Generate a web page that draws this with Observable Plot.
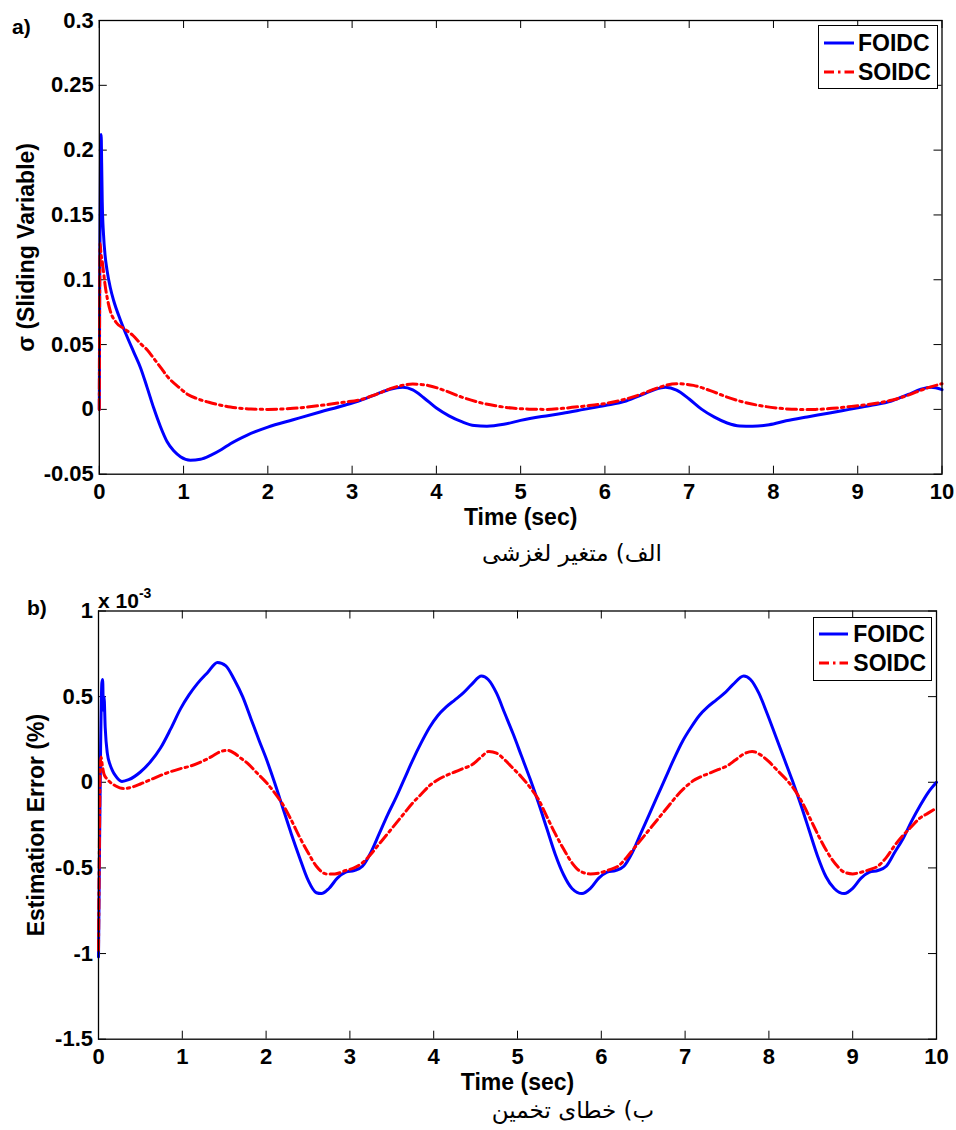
<!DOCTYPE html>
<html>
<head>
<meta charset="utf-8">
<script src="https://cdn.jsdelivr.net/npm/d3@7"></script>
<script src="https://cdn.jsdelivr.net/npm/@observablehq/plot@0.6"></script>
<style>
  html, body { margin: 0; padding: 0; background: #fff; }
  #page { position: relative; width: 956px; height: 1130px; overflow: hidden; background: #fff; }
  .abs { position: absolute; }
  .lbl { font-family: "Liberation Sans", Arial, sans-serif; font-weight: bold; color: #000; line-height: 1; white-space: nowrap; }
  .cap { font-family: "DejaVu Sans", sans-serif; font-size: 23px; line-height: 30px; text-align: center; direction: rtl; color: #000; white-space: nowrap; }
  .legend { position: absolute; border: 1px solid #000; background: #fff; box-sizing: border-box; }
  .legend .row { position: absolute; left: 0; height: 30px; line-height: 30px; font-family: "Liberation Sans", Arial, sans-serif; font-weight: bold; font-size: 23px; white-space: nowrap; }
  .legend svg { position: absolute; }
</style>
</head>
<body>
<div id="page"></div>
<script>
// ---------- DATA ----------
const xTicks = [0, 1, 2, 3, 4, 5, 6, 7, 8, 9, 10];
const xTickLabels = ["0", "1", "2", "3", "4", "5", "6", "7", "8", "9", "10"];

const yTicksA = [-0.05, 0, 0.05, 0.1, 0.15, 0.2, 0.25, 0.3];
const yTickLabelsA = ["-0.05", "0", "0.05", "0.1", "0.15", "0.2", "0.25", "0.3"];

const yTicksB = [-1.5, -1, -0.5, 0, 0.5, 1];
const yTickLabelsB = ["-1.5", "-1", "-0.5", "0", "0.5", "1"];

const seriesNames = ["FOIDC", "SOIDC"];
const seriesColors = ["#0000ff", "#ff0000"];

// a) sliding variable sigma  [time (sec), value]
const sigmaFOIDC = [
  [0, 0], [0.005, 0.1], [0.015, 0.2], [0.022, 0.212], [0.028, 0.19], [0.035, 0.16],
  [0.05, 0.135], [0.07, 0.118], [0.09, 0.108], [0.13, 0.094], [0.17, 0.084], [0.25, 0.069],
  [0.33, 0.056], [0.41, 0.044], [0.49, 0.032], [0.567, 0.017], [0.646, 0.001], [0.725, -0.0132],
  [0.805, -0.025], [0.883, -0.032], [0.963, -0.0365], [1.08, -0.0392], [1.2, -0.0385],
  [1.32, -0.0355], [1.45, -0.031], [1.556, -0.0265], [1.75, -0.02], [2.0, -0.0137],
  [2.3, -0.008], [2.62, -0.002], [2.9, 0.003], [3.1, 0.007], [3.3, 0.012], [3.45, 0.0155],
  [3.6, 0.017], [3.72, 0.015], [3.85, 0.009], [4.0, 0.001], [4.15, -0.005], [4.3, -0.0095],
  [4.45, -0.0125], [4.6, -0.013], [4.8, -0.0115], [5.0, -0.0085], [5.25, -0.0055],
  [5.5, -0.003], [5.75, 0.0], [6.0, 0.003], [6.25, 0.0065], [6.45, 0.0115], [6.6, 0.0155],
  [6.72, 0.017], [6.85, 0.0148], [7.0, 0.008], [7.15, 0.0], [7.3, -0.006], [7.45, -0.0105],
  [7.6, -0.0128], [7.75, -0.013], [7.95, -0.0118], [8.15, -0.0088], [8.4, -0.0058],
  [8.65, -0.003], [8.9, 0.0], [9.15, 0.003], [9.4, 0.0065], [9.6, 0.0115], [9.75, 0.0155],
  [9.87, 0.017], [10.0, 0.0152]
];
const sigmaSOIDC = [
  [0, 0], [0.004, 0.08], [0.01, 0.128], [0.02, 0.12], [0.033, 0.115], [0.05, 0.106],
  [0.073, 0.094], [0.1, 0.084], [0.13, 0.076], [0.2, 0.067], [0.3, 0.062], [0.4, 0.057],
  [0.49, 0.0507], [0.567, 0.046], [0.65, 0.039], [0.725, 0.0326], [0.8, 0.026], [0.963, 0.016],
  [1.05, 0.0115], [1.16, 0.0083], [1.3, 0.0055], [1.556, 0.0018], [1.8, 0.0003], [2.0, 0.0],
  [2.3, 0.0008], [2.62, 0.003], [2.9, 0.0055], [3.1, 0.0075], [3.3, 0.012], [3.5, 0.017],
  [3.72, 0.0195], [3.9, 0.0185], [4.1, 0.0145], [4.3, 0.0095], [4.5, 0.0055], [4.7, 0.0028],
  [4.9, 0.001], [5.1, 0.0002], [5.3, 0.0], [5.5, 0.0008], [5.75, 0.0025], [6.0, 0.0045],
  [6.2, 0.0072], [6.4, 0.011], [6.6, 0.016], [6.85, 0.0198], [7.05, 0.0185], [7.25, 0.0145],
  [7.45, 0.0095], [7.65, 0.0055], [7.85, 0.0028], [8.05, 0.001], [8.3, 0.0], [8.5, 0.0],
  [8.7, 0.0008], [8.95, 0.0025], [9.2, 0.0045], [9.4, 0.007], [9.6, 0.011], [9.8, 0.016],
  [10.0, 0.0198]
];

// b) estimation error (%), values in units of 1e-3  [time (sec), value]
const errFOIDC = [
  [0, -1.02], [0.01, -0.5], [0.025, 0.2], [0.04, 0.58], [0.05, 0.6], [0.058, 0.42],
  [0.066, 0.5], [0.08, 0.32], [0.105, 0.17], [0.14, 0.1], [0.165, 0.07], [0.2, 0.04],
  [0.28, 0.005], [0.36, 0.015], [0.5, 0.06], [0.62, 0.12], [0.74, 0.2], [0.86, 0.31],
  [0.98, 0.43], [1.08, 0.51], [1.18, 0.576], [1.3, 0.64], [1.42, 0.70], [1.52, 0.68],
  [1.62, 0.6], [1.72, 0.5], [1.82, 0.37], [1.92, 0.24], [2.0, 0.14], [2.1, 0.0],
  [2.2, -0.15], [2.3, -0.3], [2.4, -0.44], [2.5, -0.57], [2.6, -0.645], [2.66, -0.65],
  [2.75, -0.62], [2.85, -0.56], [2.95, -0.525], [3.05, -0.515], [3.15, -0.49], [3.25, -0.41],
  [3.35, -0.3], [3.45, -0.19], [3.55, -0.09], [3.65, 0.02], [3.75, 0.13], [3.85, 0.23],
  [3.95, 0.32], [4.05, 0.39], [4.15, 0.44], [4.25, 0.48], [4.35, 0.52], [4.45, 0.57],
  [4.57, 0.62], [4.65, 0.6], [4.75, 0.52], [4.85, 0.4], [4.95, 0.28], [5.05, 0.15],
  [5.15, 0.02], [5.25, -0.12], [5.35, -0.27], [5.45, -0.42], [5.55, -0.54], [5.65, -0.62],
  [5.77, -0.65], [5.87, -0.62], [5.97, -0.56], [6.07, -0.525], [6.17, -0.515], [6.27, -0.49],
  [6.37, -0.41], [6.47, -0.3], [6.57, -0.19], [6.67, -0.08], [6.77, 0.03], [6.87, 0.14],
  [6.97, 0.24], [7.07, 0.32], [7.17, 0.39], [7.27, 0.44], [7.37, 0.48], [7.47, 0.52],
  [7.57, 0.57], [7.7, 0.62], [7.78, 0.6], [7.88, 0.52], [7.98, 0.4], [8.08, 0.27],
  [8.18, 0.14], [8.28, 0.01], [8.38, -0.13], [8.48, -0.28], [8.58, -0.43], [8.68, -0.55],
  [8.78, -0.62], [8.9, -0.65], [9.0, -0.62], [9.1, -0.56], [9.2, -0.525], [9.3, -0.515],
  [9.4, -0.49], [9.5, -0.41], [9.6, -0.33], [9.7, -0.23], [9.8, -0.14], [9.9, -0.06],
  [10.0, 0.0]
];
const errSOIDC = [
  [0, -0.98], [0.01, -0.4], [0.02, 0.1], [0.03, 0.147], [0.045, 0.1], [0.064, 0.05],
  [0.1, 0.02], [0.14, 0.0], [0.2, -0.02], [0.3, -0.037], [0.4, -0.028], [0.5, -0.01],
  [0.62, 0.015], [0.74, 0.04], [0.86, 0.062], [0.98, 0.08], [1.1, 0.095], [1.22, 0.118],
  [1.35, 0.15], [1.46, 0.18], [1.54, 0.186], [1.62, 0.17], [1.7, 0.14], [1.78, 0.11],
  [1.88, 0.06], [2.0, 0.0], [2.1, -0.06], [2.2, -0.13], [2.3, -0.22], [2.4, -0.32],
  [2.5, -0.41], [2.6, -0.49], [2.72, -0.535], [2.82, -0.535], [2.95, -0.515], [3.05, -0.5],
  [3.15, -0.47], [3.25, -0.42], [3.35, -0.36], [3.45, -0.3], [3.55, -0.24], [3.65, -0.18],
  [3.75, -0.12], [3.85, -0.07], [3.95, -0.02], [4.05, 0.015], [4.15, 0.04], [4.25, 0.06],
  [4.35, 0.08], [4.45, 0.1], [4.55, 0.14], [4.66, 0.18], [4.75, 0.17], [4.85, 0.13],
  [4.95, 0.08], [5.05, 0.03], [5.15, -0.03], [5.25, -0.1], [5.35, -0.2], [5.45, -0.3],
  [5.55, -0.39], [5.65, -0.47], [5.75, -0.52], [5.87, -0.535], [5.97, -0.53], [6.1, -0.51],
  [6.2, -0.49], [6.3, -0.44], [6.4, -0.38], [6.5, -0.32], [6.6, -0.26], [6.7, -0.2],
  [6.8, -0.14], [6.9, -0.08], [7.0, -0.03], [7.1, 0.01], [7.2, 0.035], [7.3, 0.055],
  [7.4, 0.075], [7.5, 0.095], [7.6, 0.13], [7.7, 0.165], [7.8, 0.18], [7.9, 0.16],
  [8.0, 0.12], [8.1, 0.07], [8.2, 0.02], [8.3, -0.04], [8.4, -0.12], [8.5, -0.22],
  [8.6, -0.32], [8.7, -0.41], [8.8, -0.48], [8.9, -0.525], [9.0, -0.535], [9.1, -0.525],
  [9.2, -0.51], [9.3, -0.49], [9.4, -0.44], [9.5, -0.37], [9.6, -0.31], [9.7, -0.26],
  [9.8, -0.21], [9.9, -0.18], [10.0, -0.15]
];

const xTitle = "Time (sec)";
const yTitleA = "σ (Sliding Variable)";
const yTitleB = "Estimation Error (%)";
const captionA = "الف) متغیر لغزشی";
const captionB = "ب) خطای تخمین";

// ---------- DRAWING ----------
const page = document.getElementById("page");
const tickLen = 8;
const dashDot = "10,4,2.5,4";

function panel(cfg) {
  const fh = cfg.height - cfg.marginTop - cfg.marginBottom;
  const fw = cfg.width - cfg.marginLeft - cfg.marginRight;
  const fmt = (ticks, labels) => d => labels[ticks.indexOf(d)];
  const tickStyle = {stroke: "#000", strokeOpacity: 1, strokeWidth: 1};
  return Plot.plot({
    width: cfg.width,
    height: cfg.height,
    marginTop: cfg.marginTop,
    marginBottom: cfg.marginBottom,
    marginLeft: cfg.marginLeft,
    marginRight: cfg.marginRight,
    x: {domain: [0, 10]},
    y: {domain: cfg.yDomain},
    style: {
      fontFamily: "'Liberation Sans', Arial, sans-serif",
      fontSize: "22px",
      fontWeight: "bold",
      background: "#fff",
      color: "#000",
      overflow: "visible"
    },
    marks: [
      Plot.gridX(xTicks, {...tickStyle, insetTop: fh - tickLen}),
      Plot.gridX(xTicks, {...tickStyle, insetBottom: fh - tickLen}),
      Plot.gridY(cfg.yTicks, {...tickStyle, insetRight: fw - tickLen}),
      Plot.gridY(cfg.yTicks, {...tickStyle, insetLeft: fw - tickLen}),
      Plot.axisX(xTicks, {tickSize: 0, tickPadding: cfg.xPad, tickFormat: fmt(xTicks, xTickLabels), label: null, fill: "#000"}),
      Plot.axisY(cfg.yTicks, {tickSize: 0, tickPadding: 5.5, tickFormat: fmt(cfg.yTicks, cfg.yLabels), label: null, fill: "#000"}),
      Plot.line(cfg.s1, {x: d => d[0], y: d => d[1], stroke: seriesColors[0], strokeWidth: 3, curve: "monotone-x"}),
      Plot.line(cfg.s2, {x: d => d[0], y: d => d[1], stroke: seriesColors[1], strokeWidth: 3, strokeDasharray: dashDot, curve: "monotone-x"}),
      Plot.frame({stroke: "#000", strokeWidth: 1.3}),
      Plot.text([xTitle], {frameAnchor: "bottom", lineAnchor: "top", textAnchor: "middle", dy: cfg.xTitleDy, fontSize: 23, fill: "#000"}),
      Plot.text([cfg.yTitle], {frameAnchor: "left", rotate: -90, textAnchor: "middle", lineAnchor: "middle", dx: cfg.yTitleDx, fontSize: 23, fill: "#000"})
    ]
  });
}

function place(el, left, top) {
  const w = document.createElement("div");
  w.className = "abs";
  w.style.left = left + "px";
  w.style.top = top + "px";
  w.appendChild(el);
  page.appendChild(w);
  return w;
}

function addText(html, cls, left, top, extra) {
  const d = document.createElement("div");
  d.className = "abs " + cls;
  d.style.left = left + "px";
  d.style.top = top + "px";
  Object.assign(d.style, extra || {});
  d.innerHTML = html;
  page.appendChild(d);
  return d;
}

function addLegend(box, rows) {
  const lg = document.createElement("div");
  lg.className = "legend";
  lg.style.left = box.left + "px";
  lg.style.top = box.top + "px";
  lg.style.width = box.width + "px";
  lg.style.height = box.height + "px";
  seriesNames.forEach((name, i) => {
    const r = document.createElement("div");
    r.className = "row";
    r.style.top = (rows.centers[i] - 15) + "px";
    r.style.width = box.width + "px";
    const ns = "http://www.w3.org/2000/svg";
    const s = document.createElementNS(ns, "svg");
    s.setAttribute("width", rows.lineW);
    s.setAttribute("height", 6);
    s.style.left = rows.lineX + "px";
    s.style.top = "12px";
    const ln = document.createElementNS(ns, "line");
    ln.setAttribute("x1", 0); ln.setAttribute("x2", rows.lineW);
    ln.setAttribute("y1", 3); ln.setAttribute("y2", 3);
    ln.setAttribute("stroke", seriesColors[i]);
    ln.setAttribute("stroke-width", 3);
    if (i === 1) ln.setAttribute("stroke-dasharray", dashDot);
    s.appendChild(ln);
    r.appendChild(s);
    const t = document.createElement("span");
    t.textContent = name;
    t.style.position = "absolute";
    t.style.left = rows.textX + "px";
    r.appendChild(t);
    lg.appendChild(r);
  });
  page.appendChild(lg);
}

// Panel a)
const plotA = panel({
  width: 956, height: 535, marginTop: 20, marginBottom: 61.3, marginLeft: 98.8, marginRight: 14.5,
  yDomain: [-0.05, 0.3], yTicks: yTicksA, yLabels: yTickLabelsA,
  s1: sigmaFOIDC, s2: sigmaSOIDC, xPad: 9, xTitleDy: 34, yTitle: yTitleA, yTitleDx: -72.5
});
place(plotA, 0, 0);

// Panel b)
const plotB = panel({
  width: 956, height: 520, marginTop: 30.5, marginBottom: 61.3, marginLeft: 98, marginRight: 20,
  yDomain: [-1.5, 1], yTicks: yTicksB, yLabels: yTickLabelsB,
  s1: errFOIDC, s2: errSOIDC, xPad: 9, xTitleDy: 34, yTitle: yTitleB, yTitleDx: -62
});
place(plotB, 0, 580);

// Panel letters, multiplier
addText("a)", "lbl", 12, 16, {fontSize: "21px"});
addText("b)", "lbl", 27, 597, {fontSize: "21px"});
addText('x 10<span style="font-size:14px;position:relative;top:-10px;">-3</span>', "lbl", 98, 590, {fontSize: "21px"});

// Captions
addText(captionA, "cap", 372, 538, {width: "400px"});
addText(captionB, "cap", 373, 1095, {width: "400px"});

// Legends
addLegend({left: 818, top: 25, width: 119.5, height: 64}, {centers: [16.7, 46], lineX: 5, lineW: 30, textX: 39});
addLegend({left: 813, top: 617, width: 119, height: 63.5}, {centers: [16.3, 45.3], lineX: 5.3, lineW: 29, textX: 39.3});
</script>
</body>
</html>
